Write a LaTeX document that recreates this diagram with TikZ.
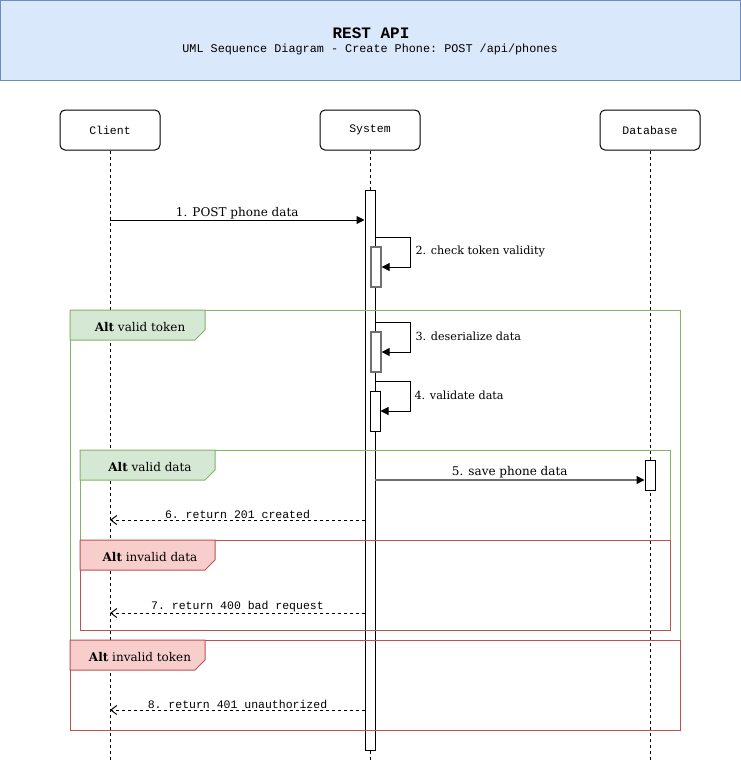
\documentclass[tikz,border=0pt]{standalone}
\usepackage{fontspec}
\setmainfont{DejaVu Serif}
\setmonofont{Liberation Mono}
\usetikzlibrary{arrows.meta,positioning}

\definecolor{headerFill}{HTML}{DAE8FC}
\definecolor{headerLine}{HTML}{6C8EBF}
\definecolor{okFill}{HTML}{D5E8D4}
\definecolor{okLine}{HTML}{82B366}
\definecolor{badFill}{HTML}{F8CECC}
\definecolor{badLine}{HTML}{B85450}
\definecolor{barGray}{HTML}{707070}

\tikzset{
  actorBox/.style={draw, fill=white, rounded corners=5pt, minimum width=100pt,
    minimum height=40pt, font=\ttfamily\fontsize{11.5}{13}\selectfont},
  actBar/.style={draw, fill=white, minimum width=10pt, inner sep=0pt},
  lifeLine/.style={dash pattern=on 3pt off 3pt},
  callArrow/.style={-{Triangle[length=8pt,width=8pt,color=black]}},
  returnArrow/.style={dash pattern=on 3pt off 3pt, -{Straight Barb[length=6pt,width=9pt]}},
  msgText/.style={font=\fontsize{12}{14}\selectfont, inner sep=1pt},
  selfText/.style={font=\fontsize{11.2}{13}\selectfont, anchor=west, inner sep=0pt},
  retText/.style={font=\ttfamily\fontsize{11.5}{13}\selectfont, inner sep=1pt},
  altText/.style={font=\fontsize{12}{14}\selectfont}
}

\begin{document}
\begin{tikzpicture}[x=1pt, y=-1pt, line width=1pt]
    \useasboundingbox (0,0) rectangle (741,761);

    % Header
    \node[draw=headerLine, fill=headerFill, minimum width=740pt, minimum height=80pt,
      inner sep=0pt] (header) at (370,40) {};
    \node[font=\ttfamily\bfseries\fontsize{16}{18}\selectfont] (title) at (371,33) {REST API};
    \node[font=\ttfamily\fontsize{11.8}{14}\selectfont] (subtitle) at (370,49)
      {UML Sequence Diagram - Create Phone: POST /api/phones};

    % Lifeline heads
    \node[actorBox] (client) at (110,130) {\raisebox{-1pt}{Client}};
    \node[actorBox] (system) at (370,130) {\raisebox{-1pt}{System}};
    \node[actorBox] (database) at (650,130) {\raisebox{-1pt}{Database}};

    % Lifelines
    \foreach \who/\x in {client/110, system/370, database/650} {
        \coordinate (\who End) at (\x,761);
        \draw[lifeLine] (\who.south) -- (\who End);
    }

    % Activation bars
    \node[actBar, minimum height=560pt] (sysBar) at (370,470) {};
    \node[actBar, draw=barGray, line width=1.3pt, minimum height=40pt] (checkBar) at (376,267) {};
    \node[actBar, draw=barGray, line width=1.3pt, minimum height=40pt] (deserBar) at (376,352) {};
    \node[actBar, minimum height=40pt] (validBar) at (375,411) {};
    \node[actBar, minimum height=30pt] (dbBar) at (650,475) {};

    % 1. request
    \coordinate (postPos) at (110,220);
    \draw[callArrow] (postPos) -- (postPos -| sysBar.west)
      node[msgText, midway, above] {1. POST phone data};

    % 2.-4. self calls
    \coordinate (checkPos) at (375,237);
    \draw[callArrow] (checkPos) -- ++(35,0) |- (checkBar.east);
    \node[selfText] (checkLbl) at (415,251) {2. check token validity};

    \coordinate (deserPos) at (375,322);
    \draw[callArrow] (deserPos) -- ++(35,0) |- (deserBar.east);
    \node[selfText] (deserLbl) at (415,336) {3. deserialize data};

    \coordinate (validPos) at (375,381);
    \draw[callArrow] (validPos) -- ++(35,0) |- (validBar.east);
    \node[selfText] (validLbl) at (414,395) {4. validate data};

    % 5. save
    \coordinate (savePos) at (375,480);
    \draw[callArrow, draw=barGray, line width=1.3pt] (savePos) -- (savePos -| dbBar.west)
      node[msgText, midway, above, text=black] {5. save phone data};

    % Returns
    \coordinate (ret201) at (365,520);
    \draw[returnArrow] (ret201) -- (ret201 -| client.south)
      node[retText, midway, above] {6. return 201 created};
    \coordinate (ret400) at (365,613);
    \draw[returnArrow] (ret400) -- (ret400 -| client.south)
      node[retText, midway, above] {7. return 400 bad request};
    \coordinate (ret401) at (365,710);
    \draw[returnArrow] (ret401) -- (ret401 -| client.south)
      node[retText, midway, above] {8. return 401 unauthorized};

    % Alt frames
    \draw[okLine] (70,310) rectangle (680,640);
    \filldraw[fill=okFill, draw=okLine] (70,310) -- (205,310) -- (205,330) -- (195,340) -- (70,340) -- cycle;
    \node[altText] (altToken) at (140,327) {\textbf{Alt} valid token};

    \draw[okLine] (80,450) rectangle (670,540);
    \filldraw[fill=okFill, draw=okLine] (80,450) -- (215,450) -- (215,470) -- (205,480) -- (80,480) -- cycle;
    \node[altText] (altData) at (150,467) {\textbf{Alt} valid data};

    \draw[badLine] (80,540) rectangle (670,630);
    \filldraw[fill=badFill, draw=badLine] (80,540) -- (215,540) -- (215,560) -- (205,570) -- (80,570) -- cycle;
    \node[altText] (altBadData) at (150,557) {\textbf{Alt} invalid data};

    \draw[badLine] (70,640) rectangle (680,730);
    \filldraw[fill=badFill, draw=badLine] (70,640) -- (205,640) -- (205,660) -- (195,670) -- (70,670) -- cycle;
    \node[altText] (altBadToken) at (140,657) {\textbf{Alt} invalid token};
\end{tikzpicture}
\end{document}
